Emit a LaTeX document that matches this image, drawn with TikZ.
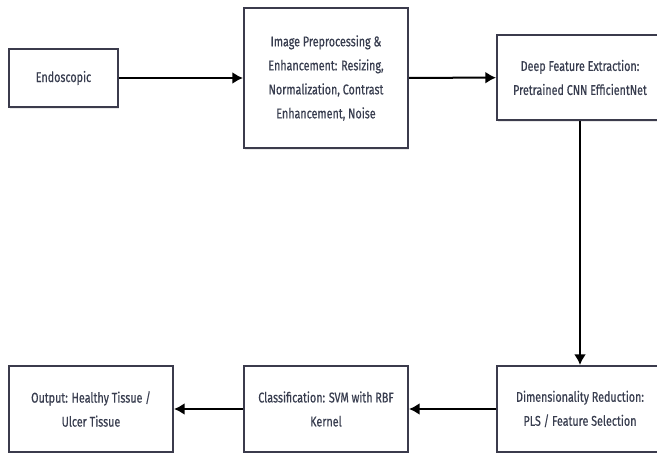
\documentclass[tikz,border=0pt]{standalone}
\usepackage{fontspec}
\setmainfont[FakeStretch=0.76,FakeBold=0.4]{Fira Sans}
\usetikzlibrary{arrows.meta,shadows}
\definecolor{BoxClr}{rgb}{0.23,0.23,0.30}
\definecolor{TextClr}{rgb}{0.22,0.24,0.31}

\begin{document}
\begin{tikzpicture}[x=0.75pt,y=-0.75pt,
  stage/.style={draw=BoxClr,line width=1.5pt,fill=white,align=center,
    text=TextClr,font=\fontsize{10.6}{18}\selectfont,
    drop shadow={shadow xshift=1pt,shadow yshift=-1.2pt,opacity=0.18}},
  flow/.style={line width=1.5pt,-{Latex[length=8pt,width=9pt]}}]
\clip (0,0) rectangle (657,453);
\fill[white] (0,0) rectangle (657,453);


\node[stage,minimum width=109*0.75pt,minimum height=58*0.75pt] (endo) at (63.5,78) {Endoscopic};
\node[stage,minimum width=164*0.75pt,minimum height=140*0.75pt] (prep) at (326,78)
  {Image Preprocessing \&\\Enhancement: Resizing,\\Normalization, Contrast\\Enhancement, Noise};
\node[stage,minimum width=166*0.75pt,minimum height=85*0.75pt] (deep) at (580,77.5)
  {Deep Feature Extraction:\\Pretrained CNN EfficientNet};

\node[stage,minimum width=166*0.75pt,minimum height=86*0.75pt] (dimred) at (580,409)
  {Dimensionality Reduction:\\PLS / Feature Selection};
\node[stage,minimum width=164*0.75pt,minimum height=86*0.75pt] (classif) at (326,409)
  {Classification: SVM with RBF\\Kernel};
\node[stage,minimum width=164*0.75pt,minimum height=86*0.75pt] (output) at (91,409)
  {Output: Healthy Tissue /\\Ulcer Tissue};

\draw[flow] (endo) -- (prep);
\draw[flow] (prep) -- (deep);
\draw[flow] (deep) -- (dimred);
\draw[flow] (dimred) -- (classif);
\draw[flow] (classif) -- (output);

\end{tikzpicture}
\end{document}
